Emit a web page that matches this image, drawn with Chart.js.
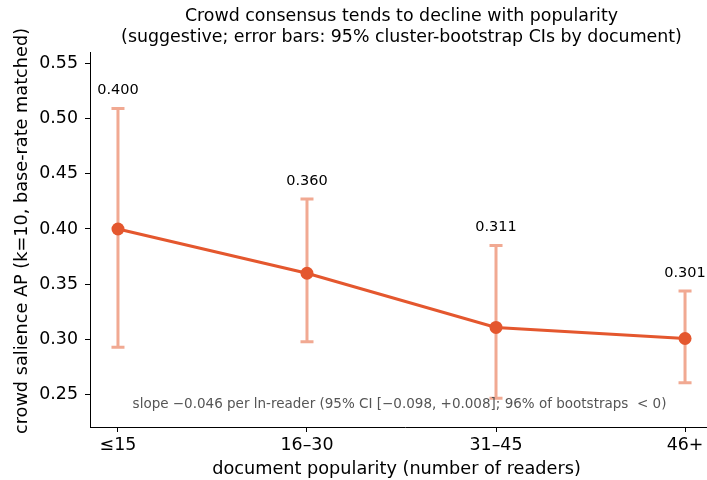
<!DOCTYPE html>
<html>
<head>
<meta charset="utf-8">
<script src="https://cdn.jsdelivr.net/npm/chart.js@4/dist/chart.umd.min.js"></script>
<style>
  html, body { margin: 0; padding: 0; background: #fff; overflow: hidden; }
  #wrap { width: 707px; height: 480px; overflow: hidden; }
</style>
</head>
<body>
<div id="wrap"><canvas id="c" width="750" height="480"></canvas></div>
<script>
// data
const categories = ['≤15', '16–30', '31–45', '46+'];
const apMean = [0.400, 0.360, 0.311, 0.301];
const ciLow = [0.293, 0.298, 0.247, 0.261];
const ciHigh = [0.509, 0.427, 0.385, 0.344];
const yTicks = [0.25, 0.30, 0.35, 0.40, 0.45, 0.50, 0.55];
const titleLines = ['Crowd consensus tends to decline with popularity', '(suggestive; error bars: 95% cluster-bootstrap CIs by document)'];
const xTitle = 'document popularity (number of readers)';
const yTitle = 'crowd salience AP (k=10, base-rate matched)';
const slopeNote = 'slope \u22120.046 per ln-reader (95% CI [\u22120.098, +0.008]; 96% of bootstraps  < 0)';

const lineColor = '#e4572e';
const barColor = 'rgba(236, 140, 110, 0.75)';
const font = 'DejaVu Sans';

const errorBars = {
  id: 'errorBars',
  beforeDatasetsDraw(chart) {
    const { ctx, scales: { x, y } } = chart;
    ctx.save();
    ctx.strokeStyle = barColor;
    ctx.lineWidth = 3;
    categories.forEach((c, i) => {
      const px = x.getPixelForValue(i);
      const top = y.getPixelForValue(ciHigh[i]);
      const bot = y.getPixelForValue(ciLow[i]);
      ctx.beginPath();
      ctx.moveTo(px, top); ctx.lineTo(px, bot);
      ctx.moveTo(px - 6.5, top); ctx.lineTo(px + 6.5, top);
      ctx.moveTo(px - 6.5, bot); ctx.lineTo(px + 6.5, bot);
      ctx.stroke();
    });
    ctx.restore();
  },
  afterDatasetsDraw(chart) {
    const { ctx, chartArea, scales: { x, y } } = chart;
    const mid = x.getPixelForValue(1.5);
    ctx.save();
    ctx.fillStyle = '#000';
    ctx.textAlign = 'center';
    // title, centred on the axes
    ctx.textBaseline = 'alphabetic';
    ctx.font = '17.4px "' + font + '"';
    ctx.fillText(titleLines[0], mid, 21);
    ctx.fillText(titleLines[1], mid, 42);
    // axis titles
    ctx.textBaseline = 'middle';
    ctx.font = '17.7px "' + font + '"';
    ctx.fillText(xTitle, mid - 5, 469);
    ctx.save();
    ctx.translate(22, 231);
    ctx.rotate(-Math.PI / 2);
    ctx.fillText(yTitle, 0, 0);
    ctx.restore();
    // value labels
    ctx.font = '14.5px "' + font + '"';
    categories.forEach((c, i) => {
      ctx.fillText(apMean[i].toFixed(3), x.getPixelForValue(i), y.getPixelForValue(ciHigh[i]) - 18);
    });
    // slope annotation
    ctx.fillStyle = '#555';
    ctx.font = '13.5px "' + font + '"';
    ctx.fillText(slopeNote, mid - 2, chartArea.bottom - 23);
    ctx.restore();
  }
};

new Chart(document.getElementById('c'), {
  type: 'line',
  data: {
    datasets: [{
      data: apMean.map((v, i) => ({ x: i, y: v })),
      borderColor: lineColor,
      backgroundColor: lineColor,
      borderWidth: 3,
      pointRadius: 6.5,
      pointBorderWidth: 0,
      pointBackgroundColor: lineColor,
      tension: 0
    }]
  },
  options: {
    responsive: false,
    animation: false,
    layout: { padding: { left: 4, right: 30, top: 52, bottom: 0 } },
    plugins: {
      legend: { display: false },
      tooltip: { enabled: false },
      title: { display: false }
    },
    scales: {
      x: {
        type: 'linear',
        min: -0.148,
        max: 3.185,
        afterBuildTicks: s => { s.ticks = categories.map((c, i) => ({ value: i })); },
        afterFit: s => { s.height = 53; },
        ticks: {
          callback: v => categories[v],
          color: '#000',
          font: { family: font, size: 17.4 },
          padding: 3,
          maxRotation: 0
        },
        grid: { display: true, drawOnChartArea: false, drawTicks: true, tickLength: 5, color: '#000' },
        border: { display: true, color: '#000', width: 1 },
        title: { display: false }
      },
      y: {
        min: 0.221,
        max: 0.560,
        afterBuildTicks: s => { s.ticks = yTicks.map(v => ({ value: v })); },
        afterFit: s => { s.width = 86; },
        ticks: {
          callback: v => v.toFixed(2),
          color: '#000',
          font: { family: font, size: 17.4 },
          padding: 7
        },
        grid: { display: true, drawOnChartArea: false, drawTicks: true, tickLength: 5, color: '#000' },
        border: { display: true, color: '#000', width: 1 },
        title: { display: false }
      }
    }
  },
  plugins: [errorBars]
});
</script>
</body>
</html>
